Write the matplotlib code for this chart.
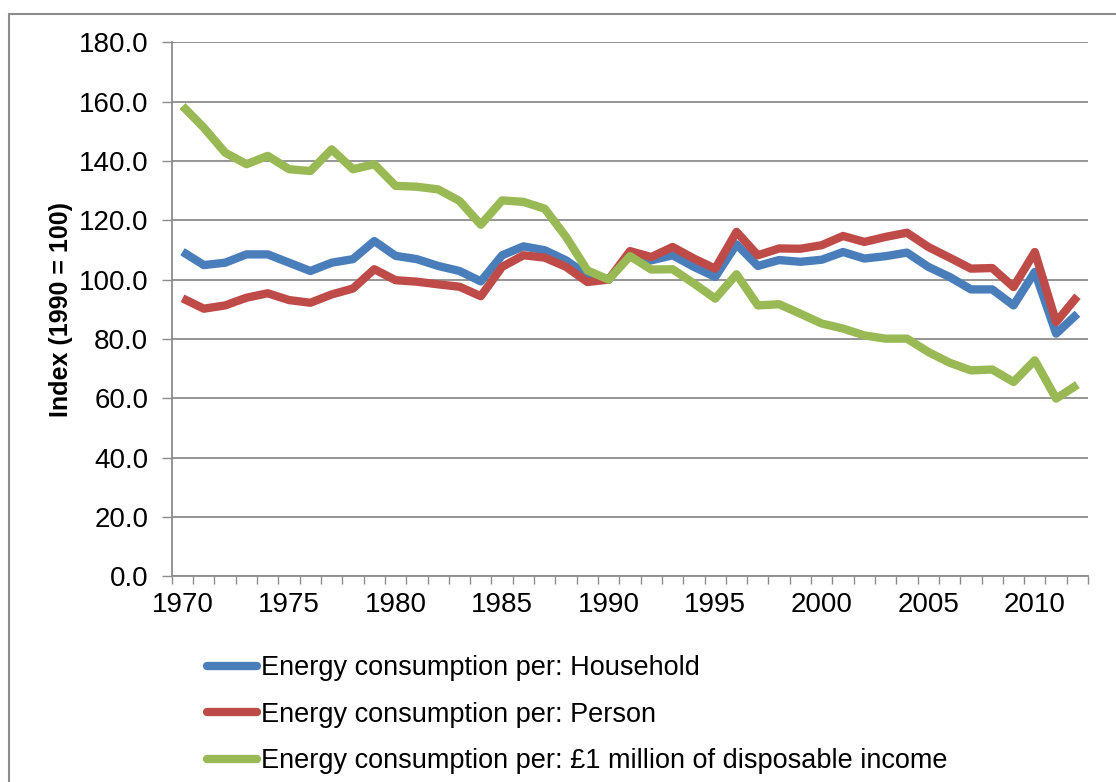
import matplotlib.pyplot as plt
import matplotlib.patches as patches

plt.rcParams['font.family'] = ['Liberation Sans', 'DejaVu Sans']

years = list(range(1970, 2013))

household = [109.4, 104.9, 105.7, 108.5, 108.5, 105.7, 102.9, 105.7, 106.9, 113.0,
             108.0, 106.9, 104.6, 102.9, 99.4, 108.2, 111.2, 109.9, 106.5, 101.5,
             100.0, 108.8, 106.5, 108.2, 104.3, 100.9, 111.9, 104.6, 106.6, 106.0,
             106.7, 109.3, 107.1, 107.9, 109.1, 104.3, 100.9, 96.7, 96.7, 91.3,
             102.6, 81.8, 88.5]

person = [93.7, 90.2, 91.3, 93.9, 95.4, 93.1, 92.2, 95.0, 97.0, 103.5,
          99.8, 99.3, 98.4, 97.6, 94.4, 104.3, 108.2, 107.4, 104.3, 99.2,
          100.0, 109.6, 107.6, 111.0, 107.1, 103.7, 116.1, 108.2, 110.5, 110.4,
          111.6, 114.7, 112.7, 114.4, 115.8, 111.0, 107.4, 103.7, 103.9, 97.5,
          109.3, 85.7, 94.4]

income = [158.5, 151.2, 142.8, 138.9, 141.7, 137.2, 136.6, 143.9, 137.2, 138.9,
          131.6, 131.3, 130.4, 126.5, 118.5, 126.7, 126.2, 123.9, 114.4, 103.1,
          100.0, 107.9, 103.4, 103.5, 98.7, 93.6, 101.8, 91.3, 91.7, 88.5,
          85.2, 83.5, 81.2, 80.1, 80.1, 75.6, 72.0, 69.4, 69.7, 65.5,
          72.8, 59.9, 64.6]

labels = ['Energy consumption per: Household',
          'Energy consumption per: Person',
          'Energy consumption per: \u00a31 million of disposable income']
colors = ['#4A7EBB', '#BE4B48', '#98B954']

fig = plt.figure(figsize=(11.16, 7.82), dpi=100)
ax = fig.add_axes([0.154, 0.263, 0.821, 0.683])

for vals, lab, c in zip([household, person, income], labels, colors):
    ax.plot(years, vals, color=c, linewidth=6, label=lab,
            solid_joinstyle='round', solid_capstyle='butt')

ax.set_xlim(1969.5, 2012.5)
ax.set_ylim(0, 180)
ax.set_yticks(range(0, 181, 20))
ax.set_yticklabels(['%.1f' % v for v in range(0, 181, 20)])
ax.set_xticks(range(1970, 2011, 5))
ax.set_xticks([1969.5 + i for i in range(44)], minor=True)
ax.tick_params(axis='x', which='major', length=0, labelsize=20, pad=11)
ax.tick_params(axis='x', which='minor', length=6, color='#8c8c8c', width=1)
ax.tick_params(axis='y', length=7, color='#8c8c8c', width=1, labelsize=20, pad=10)

ax.grid(axis='y', color='#8c8c8c', linewidth=1.3)
ax.set_axisbelow(True)
for s in ['top', 'right']:
    ax.spines[s].set_visible(False)
for s in ['left', 'bottom']:
    ax.spines[s].set_color('#8c8c8c')
    ax.spines[s].set_linewidth(1.3)

ax.set_ylabel('Index (1990 = 100)', fontsize=18, fontweight='bold', labelpad=4)

leg = fig.legend(loc='upper left', bbox_to_anchor=(0.176, 0.176), frameon=False,
                 fontsize=19.5, handlelength=1.85, handletextpad=0.15,
                 labelspacing=0.76, borderaxespad=0)
for ln in leg.get_lines():
    ln.set_solid_capstyle('round')

border = patches.Rectangle((0.008, -0.05), 1.05, 1.032, transform=fig.transFigure,
                           fill=False, edgecolor='#8c8c8c', linewidth=1.5, clip_on=False)
fig.patches.append(border)

fig.savefig('out.png', dpi=100)
